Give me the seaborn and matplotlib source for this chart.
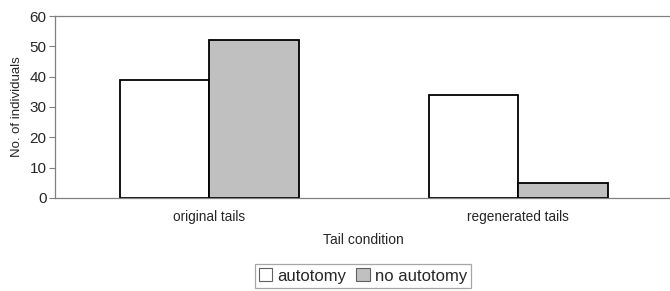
import matplotlib
matplotlib.use("Agg")
import matplotlib.pyplot as plt
import seaborn as sns
import pandas as pd

categories = ["original tails", "regenerated tails"]
autotomy = [39, 34]
no_autotomy = [52, 5]
series = ["autotomy", "no autotomy"]

df = pd.DataFrame({
    "condition": categories * 2,
    "count": autotomy + no_autotomy,
    "group": [series[0]] * 2 + [series[1]] * 2,
})

sns.set_style("white")
plt.rcParams["font.family"] = ["Liberation Sans", "DejaVu Sans"]

fig = plt.figure(figsize=(6.7, 2.91), dpi=100)
ax = fig.add_axes([0.082, 0.320, 0.922, 0.625])

sns.barplot(data=df, x="condition", y="count", hue="group", order=categories,
            hue_order=series, palette={"autotomy": "white", "no autotomy": "#c0c0c0"},
            width=0.58, edgecolor="black", linewidth=1.3, saturation=1, ax=ax,
            legend=True)

ax.set_xlim(-0.5, 1.5)
ax.set_ylim(0, 60)
ax.set_yticks(range(0, 61, 10))
ax.tick_params(axis="y", length=4, width=0.8, color="#808080", direction="out",
               left=True, labelsize=11, pad=2)
ax.tick_params(axis="x", length=0, labelsize=9.8, pad=9)
for s in ["left", "top", "bottom", "right"]:
    ax.spines[s].set_color("#808080")
    ax.spines[s].set_linewidth(0.9)
ax.set_ylabel("No. of individuals", fontsize=9.5, labelpad=5)
ax.set_xlabel("Tail condition", fontsize=10, labelpad=6)

leg = ax.legend(loc="center", ncol=2, frameon=True, fancybox=False, fontsize=12,
                handlelength=0.8, handleheight=0.8, handletextpad=0.3,
                columnspacing=0.6, borderpad=0.25, edgecolor="#909090")
leg.get_frame().set_linewidth(0.9)
leg.set_bbox_to_anchor((363 / 670, 1 - 276 / 291), transform=fig.transFigure)
for h in leg.legend_handles:
    h.set_edgecolor("#606060")
    h.set_linewidth(0.8)

fig.savefig("out.png", dpi=100)
